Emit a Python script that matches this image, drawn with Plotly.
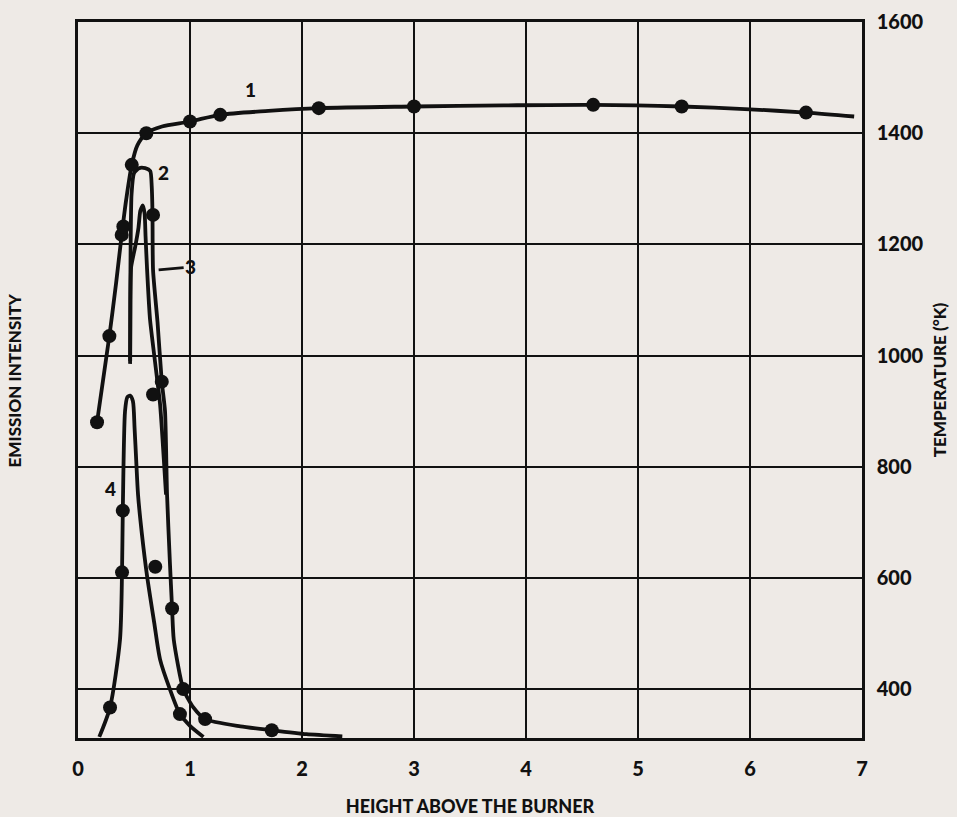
import plotly.graph_objects as go

# ---- measured points (dots) ----
# curve 1: flame temperature
temp_x = [0.17, 0.28, 0.39, 0.405, 0.48, 0.61, 1.0, 1.27, 2.15, 3.0, 4.6, 5.39, 6.5]
temp_y = [880, 1035, 1217, 1232, 1343, 1400, 1421, 1433, 1445, 1448, 1451, 1448, 1437]

# curve 2 / 3 / 4: emission intensities
em2_x = [0.67, 0.748, 0.84, 0.94, 1.135, 1.73]
em2_y = [1253, 953, 545, 400, 346, 326]
em3_x = [0.67]
em3_y = [930]
em4_x = [0.286, 0.393, 0.40, 0.69, 0.91]
em4_y = [367, 610, 721, 620, 355]

# ---- drawn curves through the points ----
c1_x = [0.17, 0.28, 0.34, 0.39, 0.43, 0.48, 0.53, 0.61, 0.75, 1.0, 1.27, 1.7, 2.15, 3.0, 3.8, 4.6, 5.39, 6.0, 6.5, 6.93]
c1_y = [880, 1035, 1130, 1217, 1280, 1343, 1378, 1400, 1412, 1421, 1433, 1440, 1445, 1448, 1450, 1451, 1448, 1443, 1437, 1430]

c2_x = [0.465, 0.467, 0.47, 0.478, 0.50, 0.545, 0.60, 0.645, 0.658, 0.665, 0.67, 0.71, 0.748, 0.777, 0.795, 0.82, 0.84, 0.855, 0.94, 1.03, 1.135, 1.45, 1.73, 2.04, 2.36]
c2_y = [985, 1100, 1200, 1290, 1328, 1337, 1337, 1332, 1305, 1257, 1154, 1060, 953, 900, 750, 630, 545, 489, 400, 367, 346, 333, 326, 319, 315]

c3_x = [0.466, 0.468, 0.475, 0.51, 0.54, 0.556, 0.578, 0.595, 0.603, 0.617, 0.643, 0.69, 0.733, 0.786]
c3_y = [990, 1100, 1160, 1195, 1230, 1260, 1270, 1255, 1215, 1154, 1065, 985, 912, 750]

c4_x = [0.19, 0.286, 0.375, 0.393, 0.40, 0.42, 0.44, 0.465, 0.49, 0.505, 0.52, 0.536, 0.57, 0.617, 0.68, 0.733, 0.82, 0.91, 1.0, 1.12]
c4_y = [314, 367, 489, 610, 721, 900, 925, 928, 918, 870, 810, 750, 680, 603, 520, 453, 400, 355, 334, 314]

x_ticks = [0, 1, 2, 3, 4, 5, 6, 7]
t_ticks = [400, 600, 800, 1000, 1200, 1400, 1600]

INK = "#111111"
BG = "#eeeae6"
FONT = "Lato"


def bold(size):
    return dict(family=FONT, size=size, color=INK, weight=900)


fig = go.Figure()

for cx, cy, sm in [(c1_x, c1_y, 0.8), (c2_x, c2_y, 0.6), (c3_x, c3_y, 0.5), (c4_x, c4_y, 0.7)]:
    fig.add_trace(go.Scatter(
        x=cx, y=cy, mode="lines",
        line=dict(color=INK, width=3.8, shape="spline", smoothing=sm),
        hoverinfo="skip", showlegend=False,
    ))

for px, py in [(temp_x, temp_y), (em2_x, em2_y), (em3_x, em3_y), (em4_x, em4_y)]:
    fig.add_trace(go.Scatter(
        x=px, y=py, mode="markers",
        marker=dict(color=INK, size=14),
        showlegend=False,
    ))

for txt, lx, ly in [("1", 1.54, 1478), ("2", 0.76, 1330), ("4", 0.29, 760)]:
    fig.add_annotation(x=lx, y=ly, text=txt, showarrow=False, font=bold(19))

fig.add_annotation(
    x=0.72, y=1154, text="3", showarrow=True,
    ax=32, ay=-3, arrowhead=0, arrowwidth=2.8, arrowcolor=INK,
    font=bold(19), standoff=0,
)

fig.add_annotation(
    x=-0.097, xref="paper", y=0.5, yref="paper",
    text="EMISSION INTENSITY", textangle=-90, showarrow=False,
    font=bold(17),
)

fig.update_layout(
    width=957, height=817,
    margin=dict(l=78, r=95, t=22, b=79),
    paper_bgcolor=BG, plot_bgcolor=BG,
    font=dict(family=FONT, color=INK),
    xaxis=dict(
        range=[0, 7], tickvals=x_ticks, ticktext=[str(v) for v in x_ticks],
        showgrid=True, gridcolor=INK, gridwidth=2,
        showline=True, linecolor=INK, linewidth=2.5, mirror=True,
        zeroline=False, ticks="", ticklabelstandoff=11, automargin=False,
        tickfont=bold(20),
        title=dict(text="HEIGHT ABOVE THE BURNER", standoff=24, font=bold(18)),
    ),
    yaxis=dict(
        range=[312, 1600], side="right", tickvals=t_ticks,
        showgrid=True, gridcolor=INK, gridwidth=2,
        showline=True, linecolor=INK, linewidth=2.5, mirror=True,
        zeroline=False, ticks="", ticklabelstandoff=8, automargin=False,
        tickfont=bold(20),
        title=dict(text="TEMPERATURE (°K)", standoff=12, font=bold(17)),
    ),
)

fig.write_html("out.html")
